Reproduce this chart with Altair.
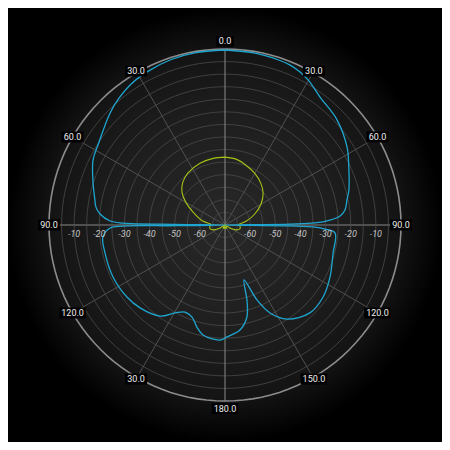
import altair as alt
import numpy as np
import pandas as pd

# ---------------- data ----------------
cyan_angle = [0, 10, 18, 22, 26, 30, 36.6, 46.8, 57.4, 66.1, 74.2, 78.4, 82.9, 85.5, 87.3, 88.7, 89.2, 90, 90.8,
              91.3, 92.3, 94.2, 104.5, 116.3, 126.3, 136, 146.6, 152.9, 156.9, 160.9, 163.7, 166.6, 171.9,
              179, 182.5, 191.3, 195.4, 199.7, 204.7, 209.6, 215.5, 225.7, 233.7, 245.1, 256.9, 264.4,
              268.5, 269.4, 269.2, 270, 270.8, 271.1, 272, 275, 277.9, 280.9, 288.8, 296.2, 302.2, 314.2,
              320, 326.5, 334, 342, 350, 360]
cyan_db = [-0.4, -0.6, -1.0, -1.3, -2.2, -3.6, -6.6, -8.9, -12.4, -16.1, -18.8, -20.5, -21.9, -24.1, -28.2, -34.2,
           -44, -70, -44, -34.2, -30.2, -26.1, -25.6, -23.4, -21.6, -21.4, -25.2, -30.7, -37.6, -46.9, -38.9,
           -32.4, -27.8, -25.5, -24.2, -25.4, -27.9, -31.1, -31.9, -29.8, -25.5, -22.8, -21.6, -20.9, -21.0,
           -21.2, -24.3, -29.4, -50, -70, -50, -29.4, -24.3, -20.1, -18.2, -17.3, -14.5, -11.5, -10.3, -6.2,
           -4.3, -2.6, -1.6, -0.8, -0.5, -0.4]

green_angle = [0, 10, 20, 30, 40, 50, 60, 70, 80, 88, 95, 102, 110, 120, 130, 150, 170, 180, 190, 210,
               230, 240, 250, 258, 265, 272, 280, 292, 300, 307.5, 315, 324.6, 338, 350, 360]
green_db = [-43.0, -43.5, -44.9, -46.3, -48.0, -50.2, -53.5, -57.5, -61.5, -64.5, -64.0, -63.8, -64.5, -67,
            -70, -68.5, -69, -68.5, -69, -68.5, -70, -67, -64.5, -63.8, -64, -64.5, -61, -56.3, -52,
            -48.4, -46.2, -44.6, -43.5, -43.1, -43.0]

ring_db = [-65, -60, -55, -50, -45, -40, -35, -30, -25, -20, -15, -10, -5]
outer_db = [0]
spoke_angle = [0, 30, 60, 90, 120, 150]
angle_label_pos = [0, 30, 60, 90, 120, 150, 180, 210, 240, 270, 300, 330]
angle_label_text = ["0.0", "30.0", "60.0", "90.0", "120.0", "150.0", "180.0", "30.0", "120.0", "90.0", "60.0", "30.0"]
radial_label_db = [-10, -20, -30, -40, -50, -60]
radial_label_side = [90, 270]

FLOOR = -70
HALF = 86.3        # half the plot extent in dB units
PX = 176.0 / 70.0  # pixels per dB unit

# ---------------- tables ----------------
cyan = pd.DataFrame({"angle": cyan_angle, "db": cyan_db, "idx": range(len(cyan_db))})
green = pd.DataFrame({"angle": green_angle, "db": green_db, "idx": range(len(green_db))})

circ = list(range(0, 361, 3))
rings = pd.DataFrame([{"ring": r, "angle": a, "db": r, "idx": i}
                      for r in ring_db for i, a in enumerate(circ)])
outer = pd.DataFrame([{"ring": r, "angle": a, "db": r, "idx": i}
                      for r in outer_db for i, a in enumerate(circ)])
spokes = pd.DataFrame([{"spoke": s, "angle": s + k * 180, "db": 0, "idx": k}
                       for s in spoke_angle for k in (0, 1)])
alabels = pd.DataFrame({"angle": angle_label_pos, "text": angle_label_text})
rlabels = pd.DataFrame([{"angle": s, "db": d, "text": str(d)}
                        for s in radial_label_side for d in radial_label_db])
bg = pd.DataFrame({"x": [-HALF], "x2": [HALF], "y": [-HALF], "y2": [HALF]})

xs = alt.Scale(domain=[-HALF, HALF], nice=False, zero=False)
ys = alt.Scale(domain=[-HALF, HALF], nice=False, zero=False)


def polar(df):
    return alt.Chart(df).transform_calculate(
        r=f"max(datum.db - ({FLOOR}), 0)"
    ).transform_calculate(
        x="datum.r * sin(datum.angle * PI / 180)",
        y="datum.r * cos(datum.angle * PI / 180)",
    )


def xy():
    return dict(x=alt.X("x:Q", scale=xs, axis=None), y=alt.Y("y:Q", scale=ys, axis=None))


background = alt.Chart(bg).mark_rect(
    color=alt.Gradient(
        gradient="radial",
        stops=[alt.GradientStop(color="#282828", offset=0),
               alt.GradientStop(color="#1e1e1e", offset=0.5),
               alt.GradientStop(color="#141414", offset=0.8),
               alt.GradientStop(color="#070707", offset=0.93),
               alt.GradientStop(color="#000000", offset=1)],
        x1=0.5, y1=0.5, r1=0, x2=0.5, y2=0.5, r2=0.5,
    )
).encode(
    x=alt.X("x:Q", scale=xs, axis=None), x2="x2:Q",
    y=alt.Y("y:Q", scale=ys, axis=None), y2="y2:Q",
)

ring_layer = polar(rings).mark_line(stroke="#4a4a4a", strokeWidth=0.8).encode(
    **xy(), detail="ring:N", order="idx:Q")
outer_layer = polar(outer).mark_line(stroke="#8c8c8c", strokeWidth=1.6).encode(
    **xy(), detail="ring:N", order="idx:Q")
spoke_layer = polar(spokes).transform_filter("datum.spoke != 0 && datum.spoke != 90").mark_line(
    stroke="#505050", strokeWidth=1).encode(**xy(), detail="spoke:N", order="idx:Q")
hspoke = polar(spokes).transform_filter("datum.spoke == 90").mark_line(
    stroke="#505050", strokeWidth=2).encode(**xy(), detail="spoke:N", order="idx:Q")
vspoke = polar(spokes).transform_filter("datum.spoke == 0").mark_line(
    stroke="#8a8a8a", strokeWidth=1).encode(**xy(), detail="spoke:N", order="idx:Q")

green_layer = polar(green).mark_line(stroke="#a2c416", strokeWidth=1.1, interpolate="catmull-rom").encode(
    **xy(), order="idx:Q")
cyan_layer = polar(cyan).mark_line(stroke="#1fa6d0", strokeWidth=1.3, interpolate="catmull-rom").encode(
    **xy(), order="idx:Q")

rl = polar(rlabels).mark_text(fontSize=9, fontStyle="italic", font="Roboto", color="#c4c4c4",
                              dy=9, align="center").encode(**xy(), text="text:N")

lab = alt.Chart(alabels).transform_calculate(
    rr="70 + 3 * pow(abs(cos(datum.angle * PI / 180)), 10)"
).transform_calculate(
    x="datum.rr * sin(datum.angle * PI / 180)",
    y="datum.rr * cos(datum.angle * PI / 180)",
    hw=f"(length(datum.text) * 4.6 + 3.5) / 2 / {PX}",
    hh=f"5.5 / {PX}",
).transform_calculate(
    bx="datum.x - datum.hw", bx2="datum.x + datum.hw",
    by="datum.y - datum.hh", by2="datum.y + datum.hh",
)
lab_box = lab.mark_rect(color="#000000").encode(
    x=alt.X("bx:Q", scale=xs, axis=None), x2="bx2:Q",
    y=alt.Y("by:Q", scale=ys, axis=None), y2="by2:Q")
lab_text = lab.mark_text(fontSize=9, font="Roboto", color="#f0f0f0", align="center",
                         baseline="middle").encode(**xy(), text="text:N")

chart = alt.layer(
    background, ring_layer, spoke_layer, hspoke, vspoke, outer_layer,
    green_layer, cyan_layer, rl, lab_box, lab_text
).properties(
    width=434, height=434, autosize="none", padding=0, background="#000000"
).configure_view(stroke=None)

chart.save("out.html", embed_options={"renderer": "svg", "actions": False})
